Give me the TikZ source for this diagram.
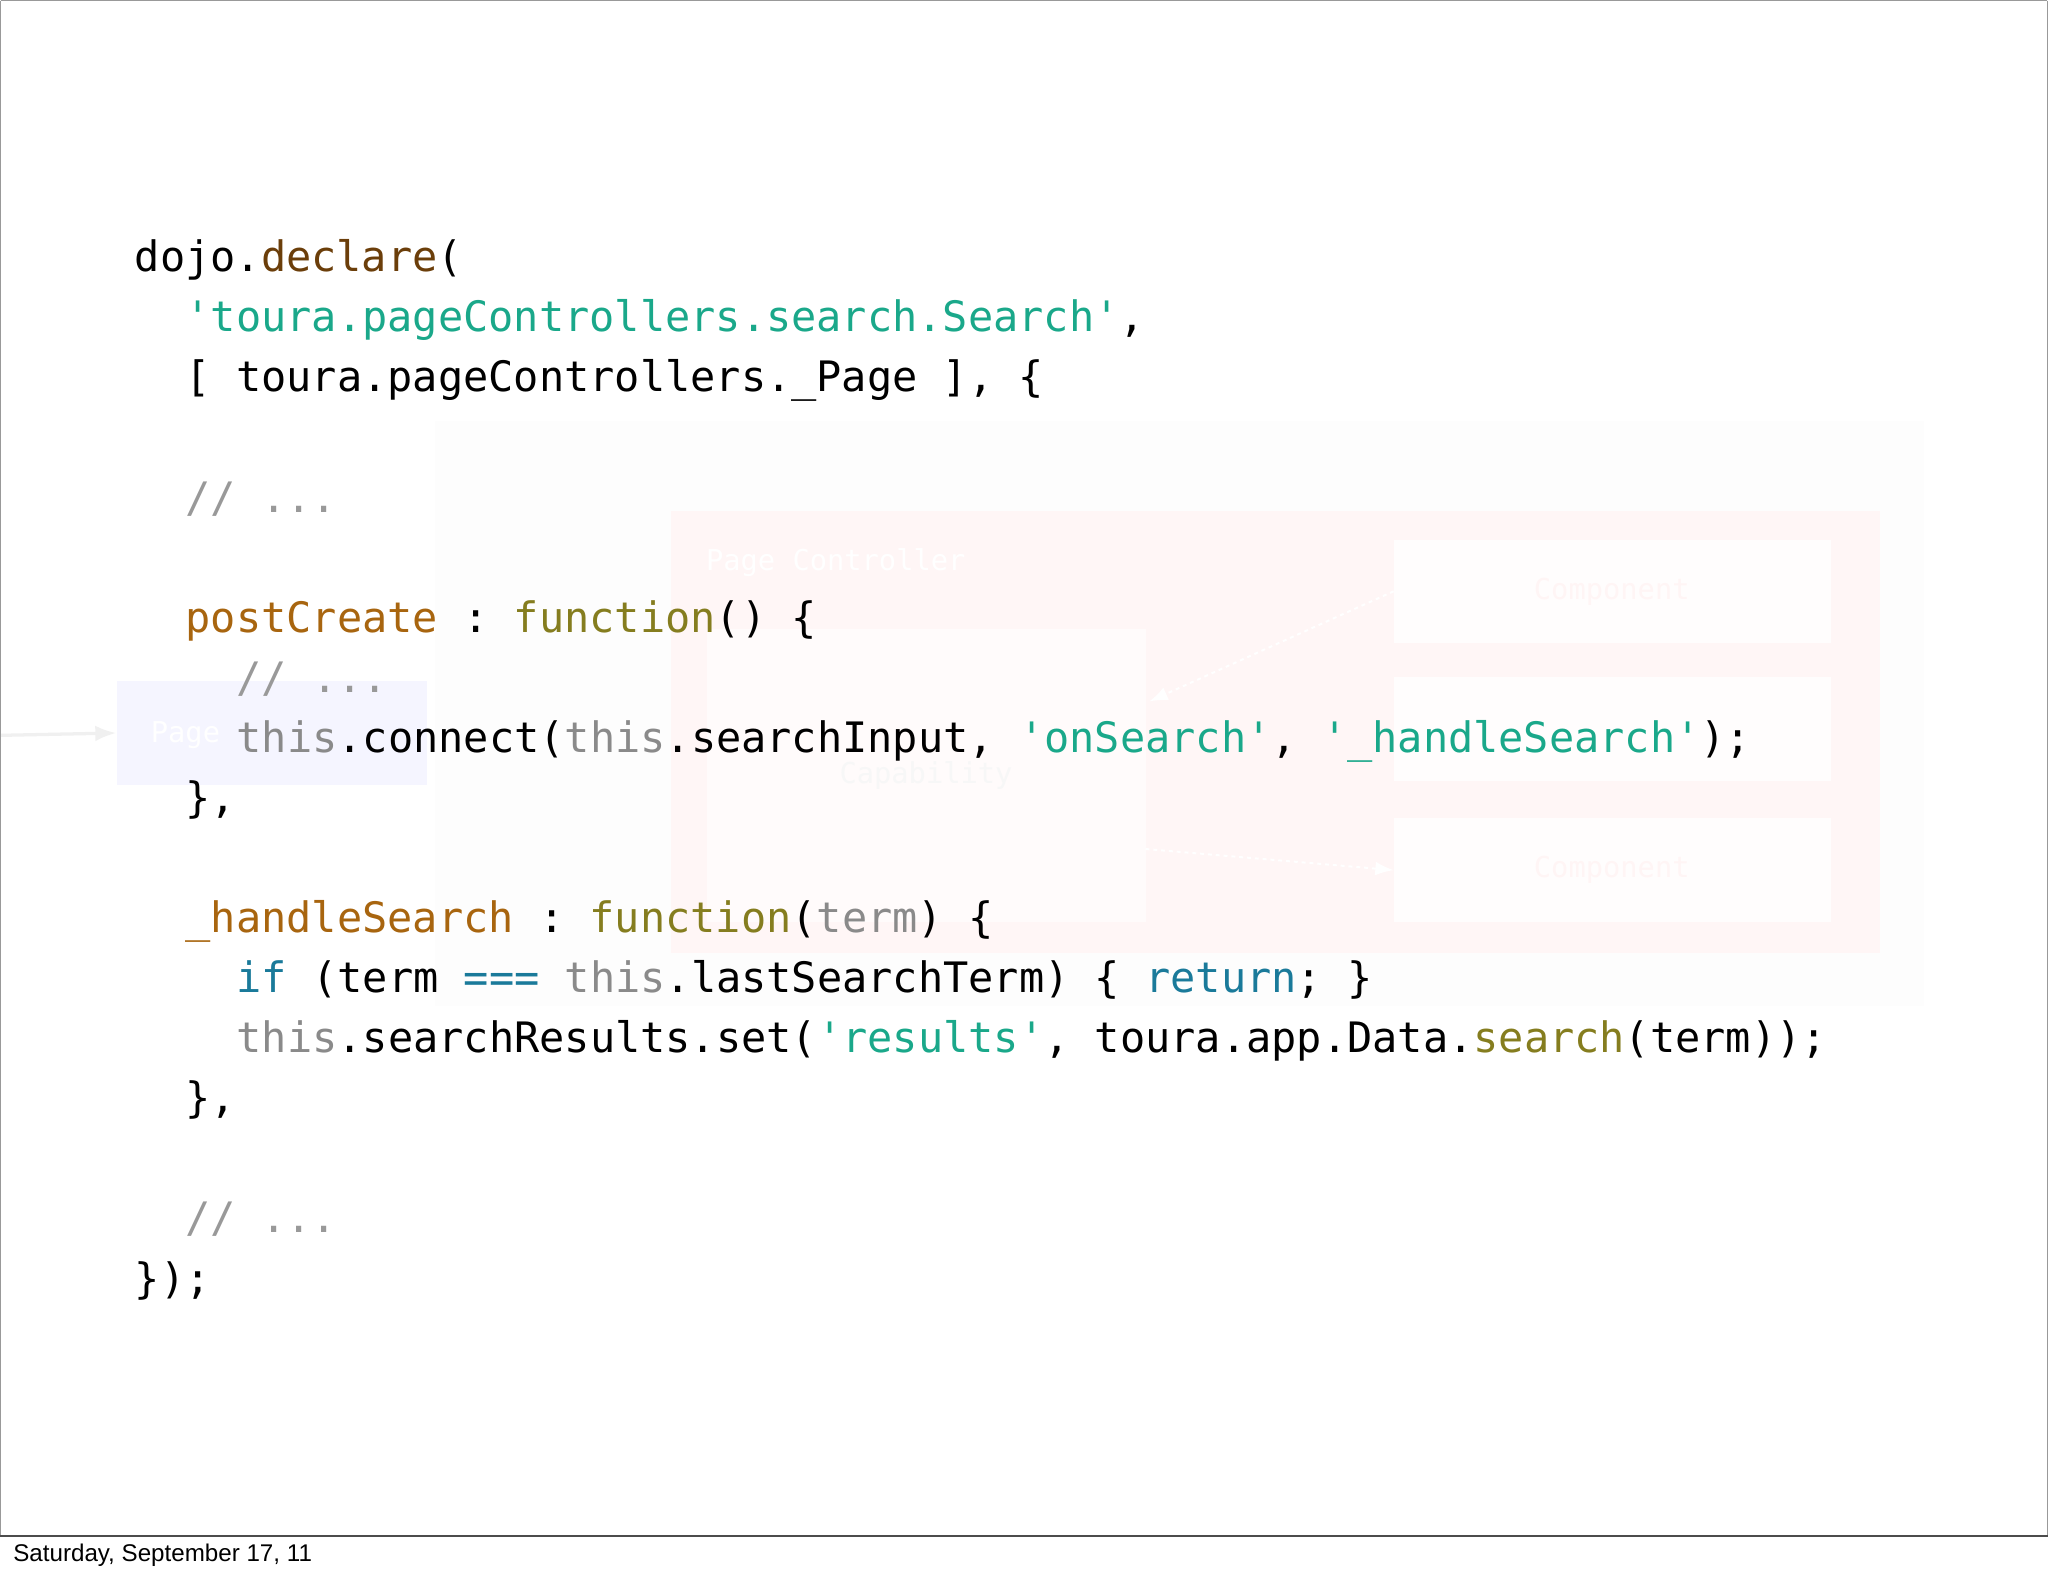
\documentclass[tikz,border=0pt]{standalone}
\usepackage{fontspec}
\setmainfont{Liberation Sans}
\setmonofont{DejaVu Sans Mono}
\usetikzlibrary{arrows.meta}
\definecolor{kdecl}{HTML}{6B3E0A}
\definecolor{kstr}{HTML}{1AA88A}
\definecolor{kprop}{HTML}{A8650F}
\definecolor{kfun}{HTML}{857D1F}
\definecolor{kthis}{HTML}{8A8A8A}
\definecolor{kcom}{HTML}{999999}
\definecolor{kkey}{HTML}{1A7A9A}
\newcommand{\cS}[1]{\textcolor{kstr}{#1}}
\newcommand{\cD}[1]{\textcolor{kdecl}{#1}}
\newcommand{\cP}[1]{\textcolor{kprop}{#1}}
\newcommand{\cF}[1]{\textcolor{kfun}{#1}}
\newcommand{\cT}[1]{\textcolor{kthis}{#1}}
\newcommand{\cC}[1]{\textcolor{kcom}{#1}}
\newcommand{\cK}[1]{\textcolor{kkey}{#1}}
\begin{document}
\begin{tikzpicture}[x=1pt,y=-1pt,
  code/.style={anchor=base west,inner sep=0pt,font=\fontsize{32.1}{38}\ttfamily},
  faintbox/.style={fill=white,fill opacity=0.6,draw=none},
  fainttxt/.style={text=white,font=\fontsize{22}{26}\ttfamily},
  faintarrow/.style={draw=white,line width=1.5pt,dashed,-{Latex[length=14pt]}}]
\useasboundingbox (0,0) rectangle (1568,1207);
\fill[white] (0,0) rectangle (1568,1207);
% faint background diagram
\fill[gray!1.5] (333,322) rectangle (1473,770);
\fill[red!3.5] (514,391) rectangle (1439,730);
\node[fainttxt,anchor=west] (pc) at (537,431) {Page Controller};
\node[faintbox,minimum width=336pt,minimum height=225pt,anchor=north west] (cap) at (541,481) {};
\node[fainttxt,text=gray!6] at (709,594) {Capability};
\node[faintbox,fill opacity=0.8,minimum width=335pt,minimum height=79pt,anchor=north west] (c1) at (1067,413) {};
\node[faintbox,fill opacity=0.8,minimum width=335pt,minimum height=80pt,anchor=north west] (c2) at (1067,518) {};
\node[faintbox,fill opacity=0.8,minimum width=335pt,minimum height=80pt,anchor=north west] (c3) at (1067,626) {};
\node[fainttxt,text=red!4] at (1234,453) {Component};
\node[fainttxt,text=red!4] at (1234,666) {Component};
\draw[faintarrow] (c1.west) -- (880,537);
\draw[faintarrow] (877,650) -- (c3.west);
\node[fill=blue!4,minimum width=238pt,minimum height=80pt,anchor=north west,inner sep=0pt] (pg) at (89,521) {};
\node[anchor=west,text=white,font=\fontsize{22}{26}\ttfamily] at (112,563) {Page};
\coordinate (src) at (0,563);
\draw[gray!12,line width=2.5pt,-{Latex[length=16pt]}] (src) -- (pg.west);
% code
\node[code] (l1) at (103,208) {dojo.\cD{declare}(};
\node[code] (l2) at (142,254) {\cS{'toura.pageControllers.search.Search'},};
\node[code] (l3) at (142,300) {[ toura.pageControllers.\_Page ], \{};
\node[code] (l4) at (142,392) {\cC{// ...}};
\node[code] (l5) at (142,484) {\cP{postCreate} : \cF{function}() \{};
\node[code] (l6) at (181,530) {\cC{// ...}};
\node[code] (l7) at (181,576) {\cT{this}.connect(\cT{this}.searchInput, \cS{'onSearch'}, \cS{'\_handleSearch'});};
\node[code] (l8) at (142,622) {\},};
\node[code] (l9) at (142,714) {\cP{\_handleSearch} : \cF{function}(\cT{term}) \{};
\node[code] (l10) at (181,760) {\cK{if} (term \cK{===} \cT{this}.lastSearchTerm) \{ \cK{return}; \}};
\node[code] (l11) at (181,806) {\cT{this}.searchResults.set(\cS{'results'}, toura.app.Data.\cF{search}(term));};
\node[code] (l12) at (142,852) {\},};
\node[code] (l13) at (142,944) {\cC{// ...}};
\node[code] (l14) at (103,990) {\});};
% frame and footer
\draw[gray!80,line width=1pt] (0.5,0.5) -- (1567.5,0.5) (0.5,0.5) -- (0.5,1176) (1567.5,0.5) -- (1567.5,1176);
\draw[black!70,line width=1pt] (0,1176) -- (1568,1176);
\node[anchor=west,inner sep=0pt,font=\fontsize{18.5}{22}\selectfont] (foot) at (10,1191) {Saturday, September 17, 11};
\end{tikzpicture}
\end{document}
